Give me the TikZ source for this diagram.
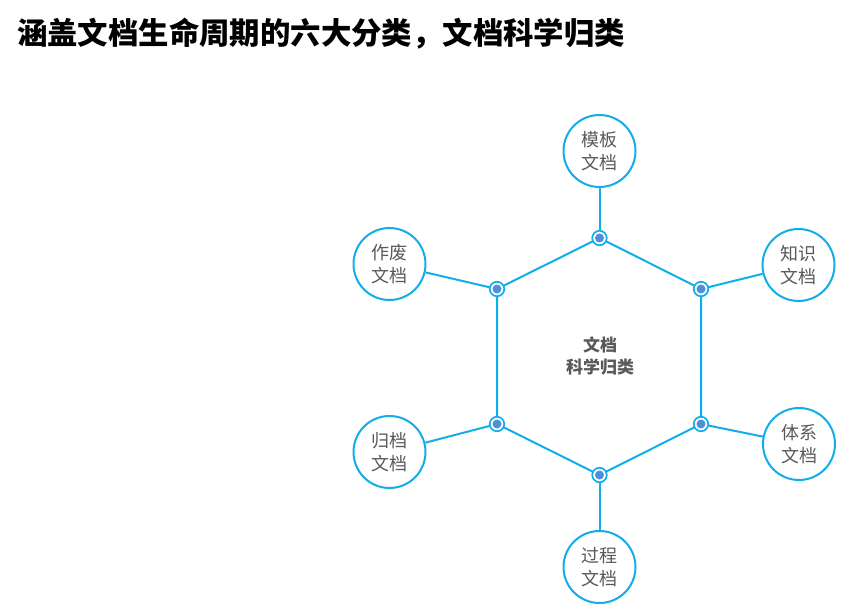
\documentclass[tikz,border=0pt]{standalone}
\usepackage{fontspec}
\newfontfamily\cjk{Noto Sans CJK SC}
\definecolor{linecyan}{HTML}{11AEEA}
\definecolor{dotblue}{HTML}{4F8FD8}
\definecolor{txtgrey}{HTML}{595959}
\begin{document}
\begin{tikzpicture}[x=1pt,y=-1pt,
  catnode/.style={circle,draw=linecyan,line width=2pt,fill=white,minimum size=72pt,inner sep=0pt,
    font=\cjk\fontsize{18}{23}\selectfont,text=txtgrey,align=center},
  vmark/.style={circle,draw=linecyan,line width=1.7pt,fill=white,minimum size=14.5pt,inner sep=0pt},
  vdot/.style={circle,fill=dotblue,minimum size=9pt,inner sep=0pt},
  link/.style={draw=linecyan,line width=2pt}]
\useasboundingbox (0,0) rectangle (855,614);
\node[anchor=base west,font=\cjk\bfseries\fontsize{30.4}{32}\selectfont,text=black,inner sep=0pt] (title) at (17,44) {涵盖文档生命周期的六大分类，文档科学归类};
% hexagon vertices
\coordinate (vt) at (599.5,238);
\coordinate (vur) at (701,289);
\coordinate (vlr) at (701,424);
\coordinate (vb) at (599.5,475);
\coordinate (vll) at (497,424);
\coordinate (vul) at (497,289);
% category circles
\node[catnode] (c1) at (599.5,151) {模板\\文档};
\node[catnode] (c2) at (798.5,265) {知识\\文档};
\node[catnode] (c3) at (799,444) {体系\\文档};
\node[catnode] (c4) at (599.5,567) {过程\\文档};
\node[catnode] (c5) at (389.5,452) {归档\\文档};
\node[catnode] (c6) at (389.5,264) {作废\\文档};
% hexagon
\draw[link] (vt) -- (vur) -- (vlr) -- (vb) -- (vll) -- (vul) -- cycle;
% connectors
\draw[link] (vt) -- (c1);
\draw[link] (vur) -- (c2);
\draw[link] (vlr) -- (c3);
\draw[link] (vb) -- (c4);
\draw[link] (vll) -- (c5);
\draw[link] (vul) -- (c6);
% markers
\foreach \v in {vt,vur,vlr,vb,vll,vul}{
  \node[vmark] (m\v) at (\v) {};
  \node[vdot] (d\v) at (\v) {};
}
% centre
\node[font=\cjk\bfseries\fontsize{17}{22}\selectfont,text=txtgrey,align=center] (centre) at (600,356) {文档\\科学归类};
\end{tikzpicture}
\end{document}
